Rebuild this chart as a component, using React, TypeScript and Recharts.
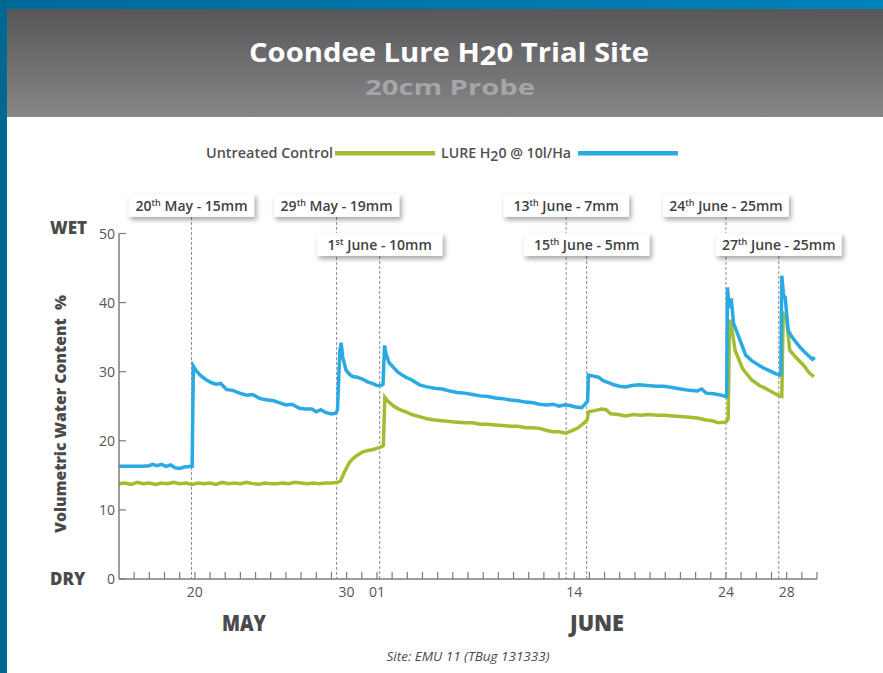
import React from "react"
import { LineChart, Line, XAxis, YAxis, ReferenceLine } from "recharts"

// day 0 = 15 May, day 17 = 1 June
const lureDays = [
  0, 0.5, 1, 1.5, 2, 2.2, 2.5, 2.8, 3.1, 3.4, 3.7, 4, 4.3, 4.82,
  4.9, 5.1, 5.4, 5.77, 6.1, 6.4, 6.7, 7.1, 7.5, 7.95, 8.4, 8.8, 9.3, 9.8, 10.2,
  10.6, 11, 11.4, 11.9, 12.3, 12.7, 13, 13.3, 13.6, 14, 14.3, 14.4,
  14.55, 14.64, 14.75, 14.97, 15.2, 15.4, 15.7, 16.07, 16.4, 16.7, 17, 17.28, 17.4,
  17.5, 17.6, 17.8, 18.05, 18.4, 18.9, 19.3, 19.8, 20.3, 20.8, 21.3, 21.8, 22.3,
  22.8, 23.3, 23.8, 24.3, 24.8, 25.3, 25.8, 26.3, 26.8, 27.3, 27.7, 28.2, 28.6,
  29, 29.4, 29.7, 30.1, 30.5, 30.8, 30.88,
  30.94, 31.2, 31.6, 31.9, 32.3, 32.6, 33, 33.4, 33.8, 34.3, 34.8, 35.4, 35.9,
  36.45, 37, 37.6, 38.1, 38.4, 38.7, 39.2, 39.7, 40, 40.05,
  40.1, 40.2, 40.35, 40.5, 40.85, 41.3, 41.7, 42.2, 42.6, 43, 43.3, 43.55, 43.62,
  43.68, 43.8, 43.9, 44.1, 44.3, 44.6, 44.9, 45.2, 45.5, 45.7, 45.85,
]
const lureValues = [
  16.3, 16.3, 16.3, 16.3, 16.4, 16.6, 16.4, 16.6, 16.3, 16.5, 16.1, 16.0, 16.2, 16.3,
  30.8, 30.1, 29.4, 28.8, 28.4, 28.2, 28.3, 27.4, 27.3, 26.9, 26.6, 26.7, 26.1, 25.9, 25.8,
  25.5, 25.2, 25.3, 24.7, 24.6, 24.6, 24.2, 24.5, 24.1, 23.9, 24.0, 24.5,
  33.0, 34.2, 32.0, 30.2, 29.6, 29.3, 29.2, 28.9, 28.5, 28.3, 28.0, 28.0, 28.2,
  33.8, 32.6, 31.3, 30.7, 29.9, 29.2, 28.8, 28.1, 27.8, 27.6, 27.5, 27.2, 27.0,
  26.9, 26.7, 26.5, 26.4, 26.2, 26.1, 25.9, 25.8, 25.6, 25.5, 25.3, 25.2, 25.3,
  25.0, 25.2, 25.1, 24.9, 24.8, 25.5, 25.7,
  29.5, 29.4, 29.2, 28.7, 28.4, 28.1, 27.9, 27.8, 28.0, 28.1, 28.0, 27.9, 27.9,
  27.7, 27.5, 27.3, 27.2, 27.5, 26.9, 26.8, 26.6, 26.4, 26.6,
  42.2, 39.2, 40.6, 37.0, 35.0, 32.4, 31.6, 30.9, 30.4, 30.0, 29.7, 29.5, 29.6,
  43.9, 41.0, 40.8, 36.0, 35.2, 34.3, 33.5, 32.8, 32.2, 31.8, 32.1,
]

const controlDays = [
  0, 0.4, 0.8, 1.2, 1.6, 2, 2.4, 2.8, 3.2, 3.6, 4, 4.4, 4.8, 5.2, 5.6, 6, 6.4, 6.8,
  7.2, 7.6, 8, 8.4, 8.8, 9.2, 9.6, 10, 10.4, 10.8, 11.2, 11.6, 12, 12.4, 12.8, 13.2,
  13.6, 14, 14.4,
  14.6, 14.8, 15, 15.2, 15.4, 15.7, 16.07, 16.4, 16.7, 17, 17.28, 17.42,
  17.52, 17.7, 18.05, 18.4, 18.9, 19.3, 19.8, 20.3, 20.8, 21.3, 21.8, 22.3, 22.8,
  23.3, 23.8, 24.3, 24.8, 25.3, 25.8, 26.3, 26.8, 27.3, 27.7, 28.2, 28.6, 29, 29.45,
  29.9, 30.2, 30.5, 30.85,
  30.95, 31.4, 31.8, 32.1, 32.4, 32.9, 33.4, 33.9, 34.4, 34.9, 35.5, 36, 36.5, 37,
  37.6, 38.1, 38.7, 39.1, 39.5, 40, 40.15,
  40.23, 40.3, 40.6, 41.1, 41.7, 42.2, 42.6, 43, 43.5, 43.68,
  43.77, 43.9, 44, 44.2, 44.6, 45, 45.2, 45.5, 45.8,
]
const controlValues = [
  13.8, 13.9, 13.7, 14.0, 13.8, 13.9, 13.7, 13.9, 13.8, 14.0, 13.8, 13.9, 13.7, 13.9,
  13.8, 13.9, 13.7, 14.0, 13.8, 13.9, 13.8, 14.0, 13.8, 13.7, 13.9, 13.8, 13.8, 13.9,
  13.8, 14.0, 13.9, 13.8, 13.9, 13.8, 13.9, 13.9, 14.0,
  14.2, 15.2, 16.1, 16.9, 17.4, 17.9, 18.4, 18.6, 18.7, 18.9, 19.1, 19.3,
  26.3, 25.8, 25.1, 24.6, 24.2, 23.8, 23.5, 23.2, 23.0, 22.9, 22.8, 22.7, 22.6,
  22.6, 22.4, 22.4, 22.3, 22.2, 22.1, 22.1, 21.9, 21.9, 21.8, 21.5, 21.3, 21.3, 21.1,
  21.5, 21.8, 22.3, 23.0,
  24.2, 24.4, 24.6, 24.5, 23.9, 23.8, 23.6, 23.8, 23.7, 23.8, 23.7, 23.7, 23.6, 23.5,
  23.4, 23.3, 23.0, 22.9, 22.6, 22.7, 23.2,
  36.9, 37.5, 33.1, 30.4, 28.8, 28.0, 27.6, 27.1, 26.5, 26.4,
  38.4, 38.0, 37.5, 33.1, 32.1, 31.2, 30.7, 29.8, 29.3,
]

// rainfall events
const eventDays = [4.78, 14.34, 17.18, 29.47, 30.82, 40.0, 43.48]
const eventDates = ["20", "29", "1", "13", "15", "24", "27"]
const eventSuffix = ["th", "th", "st", "th", "th", "th", "th"]
const eventMonths = ["May", "May", "June", "June", "June", "June", "June"]
const eventRain = ["15mm", "19mm", "10mm", "7mm", "5mm", "25mm", "25mm"]

const xTicks = Array.from({ length: 46 }, (_, i) => i + 1)
const xLabelDays = [5, 15, 17, 30, 40, 44]
const xLabels = ["20", "30", "01", "14", "24", "28"]
const yTicks = [0, 10, 20, 30, 40, 50]

const lureData = lureDays.map((d, i) => ({ day: d, value: lureValues[i] }))
const controlData = controlDays.map((d, i) => ({ day: d, value: controlValues[i] }))

const BOX_W = 126
const BOX_H = 23
const HALF_BOX_DAYS = BOX_W / 2 / 15.2
// push a box down a row when it would overlap the previous one
const eventRows: number[] = []
let lastRight = -Infinity
eventDays.forEach((d) => {
  if (d - HALF_BOX_DAYS < lastRight) eventRows.push(1)
  else {
    eventRows.push(0)
    lastRight = d + HALF_BOX_DAYS
  }
})
const ROW_BOTTOM = [52.4, 46.75] // box bottom, in axis units

const FONT = '"Open Sans", "DejaVu Sans", sans-serif'
const GREEN = "#a3bd31"
const BLUE = "#2aaae2"
const AXIS = "#7c7c7e"

// eslint-disable-next-line @typescript-eslint/no-explicit-any
function XTick({ x, y, payload }: any) {
  const i = xLabelDays.indexOf(payload.value)
  return (
    <g>
      <line x1={x} x2={x} y1={y} y2={y - 7} stroke={AXIS} strokeWidth={1.2} />
      {i >= 0 && (
        <text x={x} y={y + 18} textAnchor="middle" fontSize={14} fill="#555" fontFamily={FONT}>
          {xLabels[i]}
        </text>
      )}
    </g>
  )
}

// eslint-disable-next-line @typescript-eslint/no-explicit-any
function YTick({ x, y, payload }: any) {
  return (
    <g>
      <line x1={x} x2={x + 7} y1={y} y2={y} stroke={AXIS} strokeWidth={1.2} />
      <text x={x - 4} y={y + 5} textAnchor="end" fontSize={14} fill="#555" fontFamily={FONT}>
        {payload.value}
      </text>
    </g>
  )
}

function boxLabel(i: number) {
  // eslint-disable-next-line @typescript-eslint/no-explicit-any
  return (props: any) => {
    const vb = props.viewBox || {}
    const cx = vb.x
    const bottom = vb.y
    return (
      <g>
        <rect
          x={cx - BOX_W / 2 + 2}
          y={bottom - BOX_H + 3}
          width={BOX_W}
          height={BOX_H}
          fill="#000"
          opacity={0.35}
          filter="url(#boxShadow)"
        />
        <rect x={cx - BOX_W / 2} y={bottom - BOX_H} width={BOX_W} height={BOX_H} fill="#fff" />
        <text x={cx} y={bottom - 6} textAnchor="middle" fontSize={14} fontWeight={600} fill="#414142" fontFamily={FONT}>
          {eventDates[i]}
          <tspan fontSize={9} dy={-5}>{eventSuffix[i]}</tspan>
          <tspan dy={5}>{` ${eventMonths[i]} - ${eventRain[i]}`}</tspan>
        </text>
      </g>
    )
  }
}

export default function App() {
  return (
    <div
      style={{
        position: "absolute",
        left: 0,
        top: 0,
        width: 883,
        height: 673,
        background: "#fff",
        overflow: "hidden",
        fontFamily: FONT,
      }}
    >
      <div style={{ position: "absolute", left: 0, top: 0, width: 883, height: 9, background: "linear-gradient(90deg,#006a99,#0082bb)" }} />
      <div style={{ position: "absolute", left: 0, top: 0, width: 7, height: 673, background: "#006891" }} />
      <div style={{ position: "absolute", left: 7, top: 9, width: 876, height: 108, background: "linear-gradient(180deg,#575759,#868688)" }} />

      <svg width={883} height={673} style={{ position: "absolute", left: 0, top: 0 }}>
        <defs>
          <filter id="boxShadow" x="-20%" y="-50%" width="140%" height="200%">
            <feGaussianBlur stdDeviation="2.5" />
          </filter>
        </defs>
        <text x={449} y={62} textAnchor="middle" fontSize={27} fontWeight={700} fill="#fff" textLength={400} lengthAdjust="spacingAndGlyphs">
          Coondee Lure H<tspan dy={3}>2</tspan><tspan dy={-3}>0 Trial Site</tspan>
        </text>
        <text x={450} y={95} textAnchor="middle" fontSize={22} fontWeight={700} fill="#a6a6a8" textLength={170} lengthAdjust="spacingAndGlyphs">
          20cm Probe
        </text>

        <text x={206} y={158} fontSize={14} fontWeight={600} fill="#505052" textLength={127} lengthAdjust="spacingAndGlyphs">
          Untreated Control
        </text>
        <rect x={335} y={151} width={100} height={4.5} fill={GREEN} />
        <text x={441} y={158} fontSize={14} fontWeight={600} fill="#505052" textLength={130} lengthAdjust="spacingAndGlyphs">
          LURE H<tspan dy={3}>2</tspan><tspan dy={-3}>0 @ 10l/Ha</tspan>
        </text>
        <rect x={578} y={151} width={100} height={4.5} fill={BLUE} />

        <text x={50} y={234} fontSize={17} fontWeight={800} fill="#4a4a4c">WET</text>
        <text x={50} y={585} fontSize={17} fontWeight={800} fill="#4a4a4c">DRY</text>
        <text
          x={66}
          y={414}
          transform="rotate(-90 66 414)"
          textAnchor="middle"
          fontSize={16}
          fontWeight={800}
          fill="#4a4a4c"
          textLength={238}
          lengthAdjust="spacingAndGlyphs"
          style={{ whiteSpace: "pre" }}
        >
          {"Volumetric Water Content  %"}
        </text>

        <text x={244} y={631} textAnchor="middle" fontSize={22} fontWeight={800} fill="#4a4a4c" textLength={44} lengthAdjust="spacingAndGlyphs">
          MAY
        </text>
        <text x={597} y={631} textAnchor="middle" fontSize={22} fontWeight={800} fill="#4a4a4c" textLength={54} lengthAdjust="spacingAndGlyphs">
          JUNE
        </text>
        <text x={468} y={661} textAnchor="middle" fontSize={12} fontStyle="italic" fill="#4a4a4c" textLength={163} lengthAdjust="spacingAndGlyphs">
          Site: EMU 11 (TBug 131333)
        </text>
      </svg>

      <div style={{ position: "absolute", left: 0, top: 0 }}>
        <LineChart width={883} height={673} margin={{ top: 233.5, right: 66, bottom: 64, left: 89 }}>
          <XAxis
            type="number"
            dataKey="day"
            domain={[0, 46]}
            ticks={xTicks}
            interval={0}
            height={30}
            tickSize={0}
            tickMargin={0}
            tickLine={false}
            tick={<XTick />}
            axisLine={{ stroke: AXIS, strokeWidth: 1.5 }}
            allowDataOverflow
          />
          <YAxis
            type="number"
            domain={[0, 50]}
            ticks={yTicks}
            interval={0}
            width={30}
            tickSize={0}
            tickMargin={0}
            tickLine={false}
            tick={<YTick />}
            axisLine={{ stroke: AXIS, strokeWidth: 1.5 }}
          />
          {eventDays.map((d, i) => (
            <ReferenceLine
              key={i}
              segment={[
                { x: d, y: ROW_BOTTOM[eventRows[i]] },
                { x: d, y: 0 },
              ]}
              ifOverflow="visible"
              stroke="#8a8a8c"
              strokeWidth={1}
              strokeDasharray="3 2"
              label={boxLabel(i)}
            />
          ))}
          <Line
            data={controlData}
            dataKey="value"
            type="linear"
            stroke={GREEN}
            strokeWidth={3.5}
            dot={false}
            isAnimationActive={false}
          />
          <Line
            data={lureData}
            dataKey="value"
            type="linear"
            stroke={BLUE}
            strokeWidth={3.5}
            dot={false}
            isAnimationActive={false}
          />
        </LineChart>
      </div>
    </div>
  )
}
